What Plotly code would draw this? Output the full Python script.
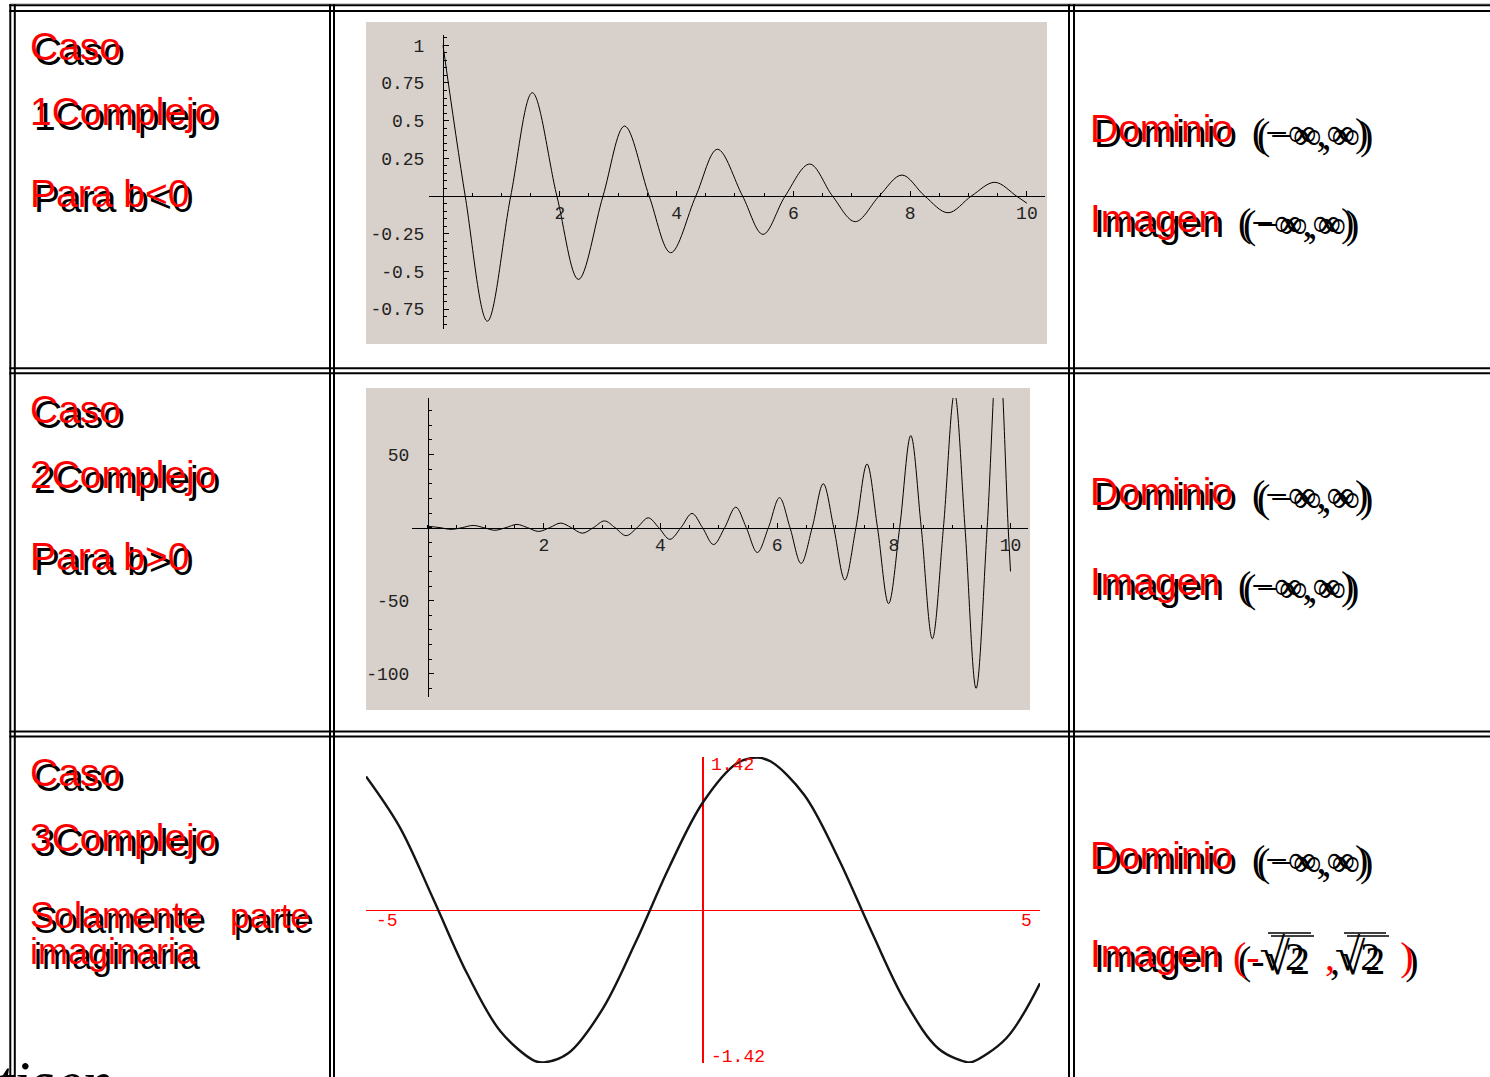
import plotly.graph_objects as go

W, H = 1490, 1077


def PX(v):
    return v / W


def PY(v):
    return 1 - v / H


# ---------------- data ----------------
# Caso 1: damped oscillation (extremes and zero crossings)
P1_X = [0, 0.38, 0.76, 1.16, 1.53, 1.95, 2.32, 2.74, 3.11, 3.53, 3.90, 4.33, 4.70,
        5.13, 5.48, 5.86, 6.28, 6.67, 7.06, 7.47, 7.86, 8.25, 8.65, 9.05, 9.45, 9.82, 10.0]
P1_Y = [1.0, 0, -0.83, 0, 0.685, 0, -0.553, 0, 0.464, 0, -0.376, 0, 0.31,
        0, -0.254, 0, 0.212, 0, -0.17, 0, 0.139, 0, -0.111, 0, 0.091, 0, -0.048]
P1_XTICKS = [2, 4, 6, 8, 10]
P1_XTICKTEXT = ["2", "4", "6", "8", "10"]
P1_YTICKS = [-0.75, -0.5, -0.25, 0.25, 0.5, 0.75, 1]
P1_YTICKTEXT = ["-0.75", "-0.5", "-0.25", "0.25", "0.5", "0.75", "1"]

# Caso 2: growing oscillation
P2_X = [0, 0.22, 0.41, 0.60, 0.79, 0.97, 1.16, 1.35, 1.54, 1.72, 1.91, 2.10, 2.29, 2.47,
        2.66, 2.85, 3.04, 3.22, 3.41, 3.60, 3.79, 3.97, 4.16, 4.35, 4.54, 4.72, 4.91, 5.10,
        5.29, 5.47, 5.66, 5.85, 6.04, 6.22, 6.41, 6.60, 6.79, 6.97, 7.16, 7.35, 7.54, 7.72,
        7.91, 8.10, 8.29, 8.47, 8.66, 8.85, 9.04, 9.22, 9.41, 9.60, 9.79, 9.96, 10.0]
P2_Y = [1.0, 0, -1.2, 0, 1.5, 0, -1.8, 0, 2.2, 0, -2.6, 0, 3.1, 0,
        -3.8, 0, 4.6, 0, -5.5, 0, 6.7, 0, -8.0, 0, 9.7, 0, -11.6, 0,
        14.0, 0, -17.0, 0, 20.5, 0, -24.5, 0, 30.0, 0, -35.8, 0, 43.5, 0,
        -52.0, 0, 63.0, 0, -76.0, 0, 92.0, 0, -110.0, 0, 133.0, 0, -30.0]
P2_XTICKS = [2, 4, 6, 8, 10]
P2_XTICKTEXT = ["2", "4", "6", "8", "10"]
P2_YTICKS = [-100, -50, 50]
P2_YTICKTEXT = ["-100", "-50", "50"]

# Caso 3: only imaginary part
P3_X = [-5, -4.5, -4, -3.5, -3, -2.5, -2.36, -2, -1.5, -1, -0.5, 0, 0.5, 0.79, 1,
        1.5, 2, 2.5, 3, 3.5, 3.93, 4, 4.5, 5]
P3_Y = [1.24, 0.77, 0.10, -0.59, -1.13, -1.40, -1.414, -1.33, -0.93, -0.30, 0.40, 1.0,
        1.36, 1.414, 1.38, 1.07, 0.49, -0.20, -0.85, -1.29, -1.414, -1.41, -1.19, -0.68]
P3_XLABELS = ["-5", "5"]
P3_XLABEL_VALS = [-5, 5]
P3_YLABELS = ["1.42", "-1.42"]
P3_YLABEL_VALS = [1.42, -1.42]

CASE_TITLES = ["Caso", "Caso", "Caso"]
CASE_NAMES = ["1Complejo", "2Complejo", "3Complejo"]
CASE_CONDITIONS = ["Para b<0", "Para b>0"]
CASE3_LINES = ["Solamente", "parte", "imaginaria"]
DOM_LABEL = "Dominio"
IMG_LABEL = "Imagen"
INF_INTERVAL = "(−∞,∞)"

RED = "#ff0000"
BG = "#d8d0ca"
SANS = "Liberation Sans"
SERIF = "Liberation Serif"
MONO = "Liberation Mono"

fig = go.Figure()

line_kw = dict(color="black", width=1, shape="spline", smoothing=1.0)
fig.add_trace(go.Scatter(x=P1_X, y=P1_Y, mode="lines", line=line_kw,
                         xaxis="x", yaxis="y", showlegend=False, hoverinfo="skip"))
fig.add_trace(go.Scatter(x=P2_X, y=P2_Y, mode="lines", line=line_kw,
                         xaxis="x2", yaxis="y2", showlegend=False, hoverinfo="skip"))
fig.add_trace(go.Scatter(x=P3_X, y=P3_Y, mode="lines",
                         line=dict(color="#141414", width=2.4, shape="spline", smoothing=1.0),
                         xaxis="x3", yaxis="y3", showlegend=False, hoverinfo="skip"))

tickfont = dict(family=MONO, size=18, color="#222222")


def math_x(dom, rng, pos, vals, text, minor):
    return dict(domain=[PX(dom[0]), PX(dom[1])], range=rng, anchor="free", position=PY(pos),
                showline=True, linecolor="black", linewidth=1, ticks="inside", ticklen=5,
                tickwidth=1, tickcolor="black", tickvals=vals, ticktext=text, tickfont=tickfont,
                showgrid=False, zeroline=False, ticklabelstandoff=0, fixedrange=True,
                minor=dict(ticks="inside", ticklen=3, tickwidth=1, tickcolor="black",
                           dtick=minor, tick0=0, showgrid=False))


def math_y(dom, rng, pos, vals, text, minor):
    return dict(domain=[PY(dom[1]), PY(dom[0])], range=rng, anchor="free", position=PX(pos),
                showline=True, linecolor="black", linewidth=1, ticks="inside", ticklen=5,
                tickwidth=1, tickcolor="black", tickvals=vals, ticktext=text, tickfont=tickfont,
                showgrid=False, zeroline=False, ticklabelstandoff=15, fixedrange=True,
                minor=dict(ticks="inside", ticklen=3, tickwidth=1, tickcolor="black",
                           dtick=minor, tick0=0, showgrid=False))


fig.update_layout(
    width=W, height=H, margin=dict(l=0, r=0, t=0, b=0),
    paper_bgcolor="white", plot_bgcolor="rgba(0,0,0,0)",
    xaxis=math_x((429, 1045), [-0.24, 10.31], 196, P1_XTICKS, P1_XTICKTEXT, 0.5),
    yaxis=math_y((35, 329), [-0.882, 1.068], 443, P1_YTICKS, P1_YTICKTEXT, 0.05),
    xaxis2=math_x((412, 1028), [-0.26, 10.30], 528, P2_XTICKS, P2_XTICKTEXT, 0.5),
    yaxis2=math_y((398, 697), [-115.9, 88.7], 428, P2_YTICKS, P2_YTICKTEXT, 10),
    xaxis3=dict(domain=[PX(366), PX(1040)], range=[-5, 5], anchor="y3", showline=False,
                showticklabels=False, ticks="", showgrid=False, zeroline=True,
                zerolinecolor=RED, zerolinewidth=2, fixedrange=True),
    yaxis3=dict(domain=[PY(1063), PY(757)], range=[-1.42, 1.42], anchor="x3", showline=False,
                showticklabels=False, ticks="", showgrid=False, zeroline=True,
                zerolinecolor=RED, zerolinewidth=1, fixedrange=True),
)

shapes = []
# plot backgrounds
for (x0, y0, x1, y1) in [(366, 22, 1047, 344), (366, 388, 1030, 710)]:
    shapes.append(dict(type="rect", xref="paper", yref="paper", x0=PX(x0), x1=PX(x1),
                       y0=PY(y1), y1=PY(y0), fillcolor=BG, line=dict(width=0), layer="below"))

# table borders (double lines)
shapes.append(dict(type="line", xref="paper", yref="paper", x0=PX(10), x1=1, y0=PY(3.5), y1=PY(3.5),
                   line=dict(color="#cccccc", width=1)))
for yy in [5.3, 11, 368.3, 373.3, 731.5, 736.5]:
    shapes.append(dict(type="line", xref="paper", yref="paper", x0=PX(9.3), x1=1,
                       y0=PY(yy), y1=PY(yy), line=dict(color="black", width=2)))
for xx in [10.3, 14.8, 330, 334, 1069, 1074]:
    shapes.append(dict(type="line", xref="paper", yref="paper", x0=PX(xx), x1=PX(xx),
                       y0=PY(4.3), y1=0, line=dict(color="black", width=2)))

# overline bars of the square roots (Imagen, caso 3)
for (bx0, bx1) in [(1268, 1311), (1344, 1386)]:
    for d in (0, 3):
        shapes.append(dict(type="line", xref="paper", yref="paper", x0=PX(bx0 + d), x1=PX(bx1 + d),
                           y0=PY(933 + d), y1=PY(933 + d), line=dict(color="black", width=1.5)))

ann = []


def txt(text, x, y, size, color, family=SANS, xanchor="left", italic=False):
    ann.append(dict(text=text, x=PX(x), y=PY(y), xref="paper", yref="paper", xanchor=xanchor,
                    yanchor="middle", showarrow=False,
                    font=dict(family=family, size=size, color=color,
                              style="italic" if italic else "normal")))


def doubled(text, x, y, size, family=SANS, math=False):
    txt(text, x + 4, y + 5, size, "black", family)
    txt(text, x, y, size, "black" if math else RED, family)


row_off = [0, 363, 726]
for i in range(3):
    o = row_off[i]
    doubled(CASE_TITLES[i], 28, 46.5 + o, 39)
    doubled(CASE_NAMES[i], 28, 111.5 + o, 39)
for i in range(2):
    doubled(CASE_CONDITIONS[i], 28, 193 + row_off[i], 39)
doubled(CASE3_LINES[0], 28, 915.5, 36)
doubled(CASE3_LINES[1], 228, 915.5, 35)
doubled(CASE3_LINES[2], 28, 951, 36)

dom_y = [128, 491, 855]
img_y = [218, 581]
for i in range(3):
    doubled(DOM_LABEL, 1088, dom_y[i], 39)
    txt(INF_INTERVAL, 1255, dom_y[i] + 7, 40, "black", SERIF)
    txt(INF_INTERVAL, 1250, dom_y[i] + 4, 40, "black", SERIF)
for i in range(2):
    doubled(IMG_LABEL, 1088, img_y[i], 39)
    txt(INF_INTERVAL, 1241, img_y[i] + 7, 40, "black", SERIF)
    txt(INF_INTERVAL, 1236, img_y[i] + 4, 40, "black", SERIF)

# row 3 image with square roots
doubled(IMG_LABEL, 1088, 953, 39)
sq = ("<span style='color:black;font-size:46px'>√</span>"
      "<span style='color:black'>2</span>")
txt("(-" + sq + "  ," + sq + "  )", 1236, 958, 40, "black", SERIF)
txt("(-" + sq + "  ," + sq + "  )", 1231, 954, 40, RED, SERIF)

# plot 3 red labels
for v, t in zip(P3_XLABEL_VALS, P3_XLABELS):
    ann.append(dict(text=t, x=v, y=0, xref="x3", yref="y3",
                    xanchor="left" if v < 0 else "right", yanchor="top", showarrow=False,
                    xshift=8 if v < 0 else -6, yshift=1,
                    font=dict(family=MONO, size=18, color=RED)))
for v, t in zip(P3_YLABEL_VALS, P3_YLABELS):
    ann.append(dict(text=t, x=0, y=v, xref="x3", yref="y3", xanchor="left",
                    yanchor="top" if v > 0 else "bottom", showarrow=False, xshift=6,
                    yshift=4 if v > 0 else -6,
                    font=dict(family=MONO, size=18, color=RED)))

# partial text of the following page line
txt("tisen", -6, 1082, 62, "black", SERIF, italic=True)

fig.update_layout(shapes=shapes, annotations=ann)
fig.write_html("out.html", post_script="document.body.style.margin='0';",
               config={"displayModeBar": False})
